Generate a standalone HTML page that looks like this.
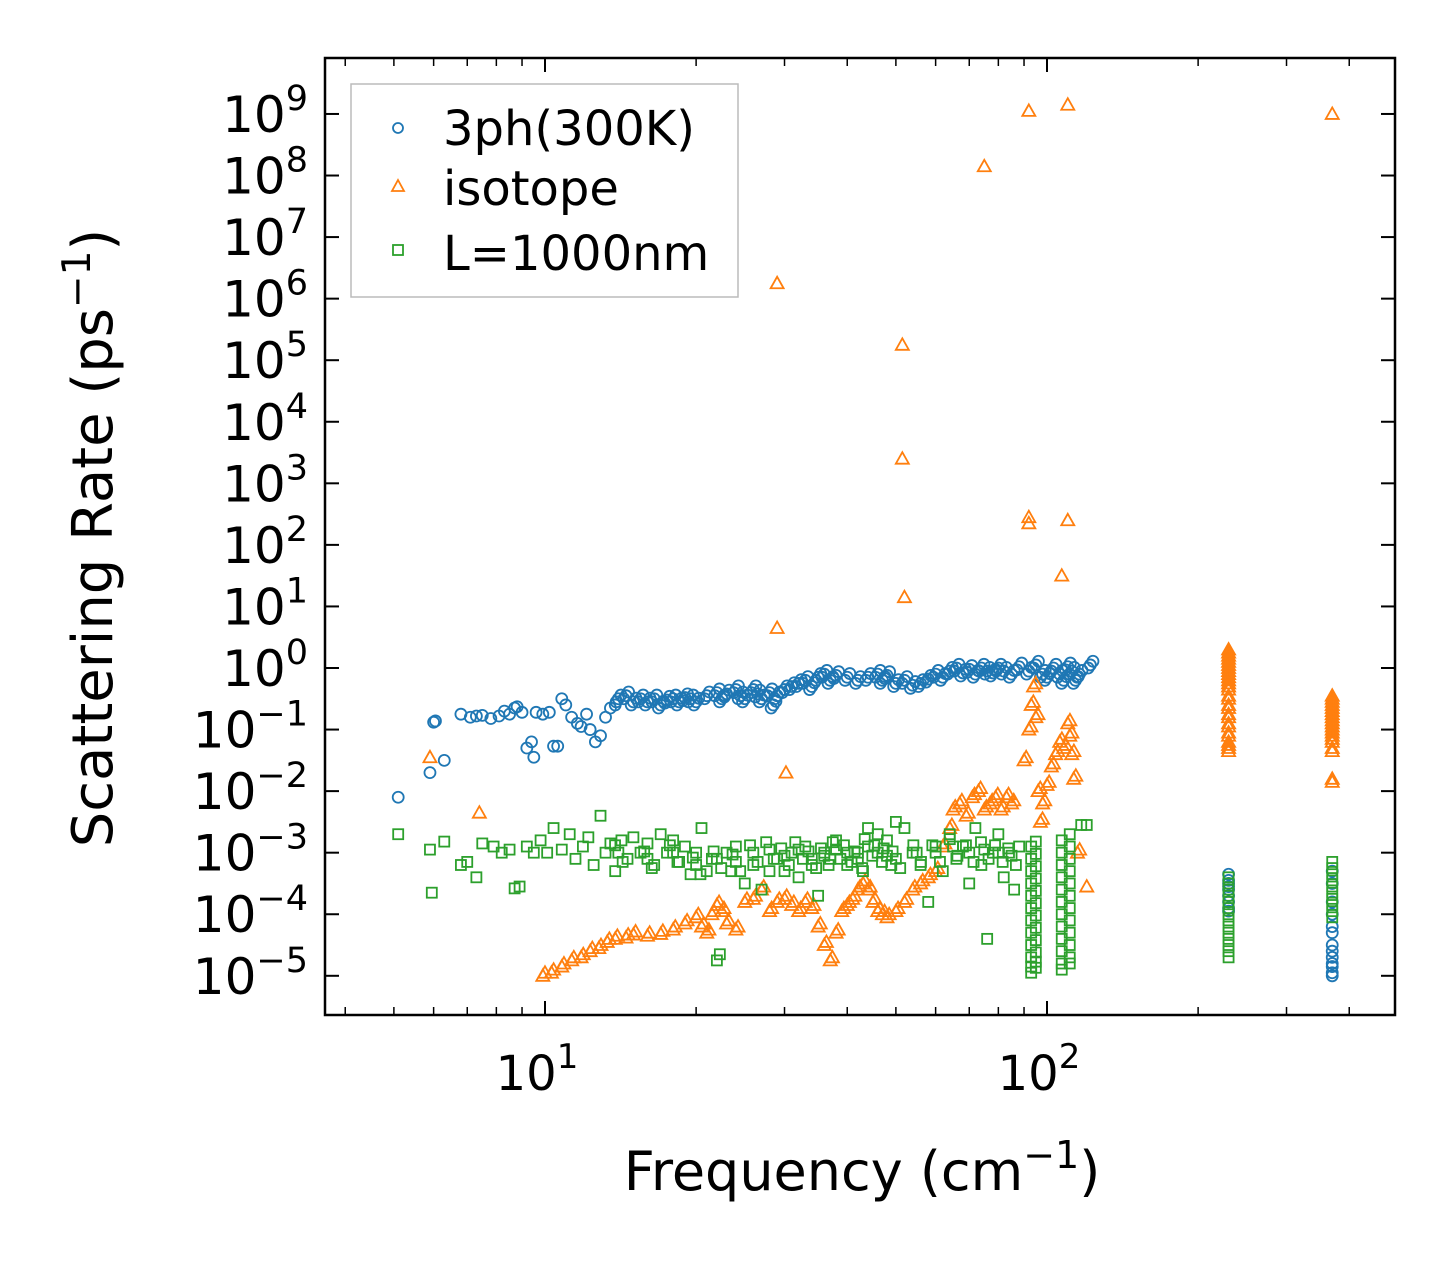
<!DOCTYPE html>
<html><head><meta charset="utf-8">
<style>
html,body{margin:0;padding:0;background:#fff;}
svg{display:block;font-family:"DejaVu Sans","Liberation Sans",sans-serif;}
</style></head>
<body>
<svg id="chart" width="1455" height="1265" viewBox="0 0 1455 1265" xmlns="http://www.w3.org/2000/svg">
<rect x="0" y="0" width="1455" height="1265" fill="#fff"/>
<g id="marks"></g>
<rect x="325" y="58" width="1070" height="957" fill="none" stroke="#000" stroke-width="2.5"/>
<g id="axes"></g>
<text x="862" y="1190" font-size="54" text-anchor="middle">Frequency (cm<tspan dy="-22" font-size="38">−1</tspan><tspan dy="22">)</tspan></text>
<text transform="translate(112,538) rotate(-90)" font-size="56" text-anchor="middle">Scattering Rate (ps<tspan dy="-22" font-size="39">−1</tspan><tspan dy="22">)</tspan></text>
<g>
<rect x="351" y="84" width="387" height="213" fill="#fff" stroke="#bbb" stroke-width="1.5"/>
<circle cx="398" cy="128" r="5" fill="none" stroke="#1f77b4" stroke-width="1.8"/>
<text x="443" y="145" font-size="48">3ph(300K)</text>
<path d="M398,180 L404,191 L392,191 Z" fill="none" stroke="#ff7f0e" stroke-width="1.8"/>
<text x="443" y="205" font-size="48">isotope</text>
<rect x="393" y="245" width="10" height="10" fill="none" stroke="#2ca02c" stroke-width="1.8"/>
<text x="443" y="270" font-size="48">L=1000nm</text>
</g>
</svg>
<script>
// ---- data: [frequency (cm^-1), log10(rate)] ----
const blueScatter = [[5.1,-2.1],[5.9,-1.7],[6.0,-0.88],[6.05,-0.86],[6.3,-1.5],[6.8,-0.75],[7.1,-0.8],[7.3,-0.78],[7.5,-0.77],[7.8,-0.82],[8.1,-0.78],[8.3,-0.7],[8.5,-0.75],[8.7,-0.65],[8.8,-0.63],[9.0,-0.72],[9.2,-1.3],[9.4,-1.2],[9.5,-1.45],[9.6,-0.72],[9.9,-0.75],[10.2,-0.72],[10.4,-1.27],[10.6,-1.27],[10.8,-0.5],[11.0,-0.6],[11.3,-0.8],[11.6,-0.9],[11.8,-0.95],[12.1,-0.75],[12.3,-1.0],[12.6,-1.2],[12.9,-1.1],[13.2,-0.8],[13.5,-0.65],[13.8,-0.6]];
const blueBand = [[14,-0.5],[14.5,-0.45],[15,-0.55],[15.5,-0.5],[16,-0.55],[16.5,-0.5],[17,-0.6],[17.5,-0.52],[18,-0.5],[18.5,-0.55],[19,-0.48],[19.5,-0.5],[20,-0.55],[21,-0.45],[22,-0.4],[22.5,-0.5],[23,-0.42],[24,-0.35],[24.5,-0.45],[25,-0.5],[26,-0.35],[26.5,-0.42],[27,-0.5],[28,-0.4],[28.5,-0.6],[29,-0.45],[30,-0.35],[31,-0.3],[32,-0.25],[33,-0.2],[34,-0.3],[35,-0.15],[36,-0.1],[37,-0.2],[38,-0.12],[40,-0.15],[42,-0.2],[44,-0.15],[46,-0.1],[47,-0.2],[48,-0.12],[50,-0.25],[52,-0.2],[54,-0.28],[56,-0.25],[58,-0.18],[60,-0.1],[62,-0.15],[64,-0.05],[66,0],[68,-0.08],[70,-0.02],[72,-0.1],[74,0.0],[76,-0.05],[78,-0.08],[80,0.0],[82,-0.05],[85,-0.1],[88,0.02],[92,-0.05],[95,0.05],[98,-0.1],[100,-0.15],[103,0.0],[106,-0.1],[108,-0.2],[110,0.02],[112,-0.05],[114,-0.2],[116,-0.1],[122,0.05]];
const blueCol230 = [-3.35,-3.45,-3.5,-3.55,-3.6,-3.7,-3.8,-3.9,-3.95];
const blueCol370 = [-3.3,-3.5,-3.8,-4.0,-4.2,-4.3,-4.5,-4.6,-4.7,-4.8,-4.85,-4.95,-5.0];
const orangeScatter = [[5.9,-1.45],[7.4,-2.35],[29,6.25],[29,0.65],[30.2,-1.7],[51.5,5.25],[51.5,3.4],[52,1.15],[75,8.15],[92,9.05],[92,2.45],[92,2.35],[107,1.5],[110,2.4],[110,9.15],[120,-3.55],[370,9.0]];
const orangeBand = [[9.9,-5.0],[10.3,-4.95],[10.8,-4.85],[11.3,-4.75],[11.8,-4.7],[12.3,-4.6],[12.8,-4.55],[13.3,-4.45],[13.8,-4.4],[14.5,-4.38],[15,-4.33],[16,-4.35],[17,-4.32],[18,-4.25],[19,-4.15],[20,-4.05],[20.5,-4.2],[21,-4.3],[21.5,-4.0],[22,-3.85],[22.5,-3.95],[23,-4.15],[24,-4.25],[25,-3.8],[26,-3.75],[27,-3.6],[28,-3.95],[29,-3.8],[30,-3.75],[31,-3.85],[32,-3.95],[33,-3.8],[34,-3.9],[35,-4.2],[36,-4.5],[37,-4.75],[38,-4.3],[39,-3.95],[40,-3.85],[41,-3.75],[42,-3.6],[43,-3.5],[44,-3.6],[45,-3.8],[46,-3.95],[47,-4.0],[48,-4.05],[50,-3.95],[52,-3.8],[54,-3.6],[56,-3.5],[58,-3.4],[60,-3.3],[62,-2.9],[64,-2.6],[65,-2.3],[67,-2.2],[69,-2.4],[71,-2.1],[73,-2.0],[75,-2.3],[77,-2.2],[79,-2.1],[81,-2.3],[83,-2.1],[85,-2.2],[90,-1.5],[92,-1.0],[93,-0.6],[94,-0.3],[95,-0.8],[96,-2.0],[97,-2.5],[98,-2.2],[100,-1.9],[102,-1.6],[104,-1.4],[106,-1.2],[108,-1.3],[110,-0.9],[111,-1.1],[112,-1.4],[113,-1.8],[115,-3.0]];
const orangeCol230 = [0.3,0.2,0.1,0.0,-0.1,-0.2,-0.3,-0.45,-0.6,-0.75,-0.9,-1.05,-1.2,-1.3];
const orangeCol370 = [-0.45,-0.55,-0.65,-0.75,-0.85,-0.95,-1.05,-1.15,-1.3,-1.8];
const greenScatter = [[5.1,-2.7],[5.9,-2.95],[5.95,-3.65],[6.3,-2.82],[6.8,-3.2],[7.0,-3.15],[7.3,-3.4],[7.5,-2.85],[7.9,-2.9],[8.2,-3.0],[8.5,-2.95],[8.7,-3.58],[8.9,-3.55],[9.2,-2.9],[9.5,-3.0],[9.8,-2.8],[10.1,-3.0],[10.4,-2.6],[10.8,-2.95],[11.2,-2.7],[11.5,-3.1],[11.9,-2.9],[12.2,-2.75],[12.5,-3.2],[12.9,-2.4],[13.2,-3.0],[13.5,-2.85],[13.8,-3.3],[14.2,-2.8],[14.6,-3.1],[15,-2.75],[15.5,-3.0],[16,-2.85],[16.5,-3.2],[17,-2.7],[17.5,-3.0],[18,-2.8],[18.5,-3.15],[19,-2.9],[19.5,-3.35],[20,-3.0],[20.5,-2.6],[21,-3.3],[21.5,-3.1],[22,-4.75],[22.3,-4.65],[23,-3.0],[23.5,-3.3],[24,-2.9],[25,-3.5],[26,-3.2],[27,-3.6],[28,-3.3],[29,-3.1],[30,-3.3],[31,-3.0],[32,-3.4],[33,-2.9],[34,-3.2],[35,-3.7],[36,-3.0],[37,-3.1],[38,-2.8],[40,-3.2],[42,-3.0],[43,-3.3],[44,-2.6],[46,-2.7],[48,-2.8],[50,-2.5],[52,-2.6],[54,-3.0],[56,-3.2],[58,-3.8],[60,-2.9],[62,-3.3],[64,-2.7],[66,-3.1],[68,-2.9],[70,-3.5],[72,-2.6],[74,-3.2],[76,-4.4],[78,-3.0],[80,-2.7],[82,-3.4],[84,-3.0],[86,-3.6],[88,-2.9],[117,-2.55],[120,-2.55]];
const greenBandDense = [[14,-3.0],[16,-3.1],[18,-3.0],[20,-3.2],[22,-3.1],[24,-3.15],[26,-3.0],[28,-2.95],[30,-3.05],[32,-2.95],[34,-3.1],[36,-3.05],[38,-2.95],[40,-3.0],[42,-3.1],[44,-2.9],[46,-3.0],[48,-3.05],[50,-3.1],[55,-3.0],[60,-3.0],[65,-2.9],[70,-3.0],[75,-2.95],[80,-3.0],[85,-3.05]];
const greenCol93 = [-2.9,-3.1,-3.3,-3.5,-3.7,-3.9,-4.1,-4.3,-4.5,-4.7,-4.85,-4.95];
const greenCol110 = [-2.8,-3.0,-3.2,-3.4,-3.6,-3.8,-4.0,-4.2,-4.4,-4.6,-4.8,-4.9];
const greenCol230 = [-3.4,-3.5,-3.6,-3.7,-3.8,-3.9,-4.0,-4.1,-4.2,-4.3,-4.4,-4.5,-4.6,-4.7];
const greenCol370 = [-3.15,-3.25,-3.35,-3.45,-3.55,-3.65,-3.75,-3.85,-3.95,-4.05];
const xTickExps = [1,2];
const yTickExps = [-5,-4,-3,-2,-1,0,1,2,3,4,5,6,7,8,9];

// ---- axes ----
const X0=545, XDEC=502, Y0=668, YDEC=61.56;
const xs = f => X0 + (Math.log10(f)-1)*XDEC;
const ys = e => Y0 - e*YDEC;
const NS="http://www.w3.org/2000/svg";
const marks=document.getElementById('marks');
const axes=document.getElementById('axes');
function mk(tag, attrs, parent){const e=document.createElementNS(NS,tag);for(const k in attrs)e.setAttribute(k,attrs[k]);parent.appendChild(e);return e;}

function circle(f,e){const el=mk('circle',{cx:xs(f),cy:ys(e),r:5.5,fill:'none',stroke:'#1f77b4','stroke-width':1.8},marks);

}
function tri(f,e){const x=xs(f),y=ys(e);const el=mk('path',{d:`M${x},${y-6.5} L${x+6.5},${y+5} L${x-6.5},${y+5} Z`,fill:'none',stroke:'#ff7f0e','stroke-width':1.8},marks);

}
function sq(f,e){const x=xs(f),y=ys(e);const el=mk('rect',{x:x-5,y:y-5,width:10,height:10,fill:'none',stroke:'#2ca02c','stroke-width':1.8},marks);

}

blueScatter.forEach(p=>circle(p[0],p[1]));
blueBand.forEach(p=>{circle(p[0],p[1]);circle(p[0]*1.012,p[1]+0.06);circle(p[0]*0.99,p[1]-0.05);});
blueCol230.forEach(e=>circle(230,e));
blueCol370.forEach(e=>circle(370,e));
orangeScatter.forEach(p=>tri(p[0],p[1]));
orangeBand.forEach(p=>{tri(p[0],p[1]);tri(p[0]*1.01,p[1]+0.05);});
orangeCol230.forEach(e=>{tri(230,e);tri(230,e-0.05);});
orangeCol370.forEach(e=>{tri(370,e);tri(370,e-0.05);});
greenScatter.forEach(p=>sq(p[0],p[1]));
greenBandDense.forEach(p=>{sq(p[0],p[1]);sq(p[0]*1.02,p[1]-0.15);sq(p[0]*0.985,p[1]+0.12);});
greenCol93.forEach(e=>{sq(93,e);sq(95,e+0.08);});
greenCol110.forEach(e=>{sq(107,e);sq(111,e+0.1);});
greenCol230.forEach(e=>sq(230,e));
greenCol370.forEach(e=>sq(370,e));

const L=325,R=1395,T=58,B=1015;
xTickExps.forEach(k=>{
  const x=xs(Math.pow(10,k));
  mk('line',{x1:x,y1:B,x2:x,y2:B-14,stroke:'#000','stroke-width':2},axes);
  mk('line',{x1:x,y1:T,x2:x,y2:T+14,stroke:'#000','stroke-width':2},axes);
  const t=mk('text',{x:x-8,y:1090,'font-size':48,'text-anchor':'middle'},axes);
  
  
  t.innerHTML=`10<tspan dy="-22" font-size="34">${k}</tspan>`;
});
[4,5,6,7,8,9,20,30,40,50,60,70,80,90,200,300,400].forEach(m=>{
  const x=xs(m); if(x<L||x>R) return;
  mk('line',{x1:x,y1:B,x2:x,y2:B-8,stroke:'#000','stroke-width':1.5},axes);
  mk('line',{x1:x,y1:T,x2:x,y2:T+8,stroke:'#000','stroke-width':1.5},axes);
});
yTickExps.forEach(k=>{
  const y=ys(k);
  mk('line',{x1:L,y1:y,x2:L+14,y2:y,stroke:'#000','stroke-width':2},axes);
  mk('line',{x1:R,y1:y,x2:R-14,y2:y,stroke:'#000','stroke-width':2},axes);
  const lbl = k<0 ? '−'+(-k) : ''+k;
  const t=mk('text',{x:308,y:y+18,'font-size':50,'text-anchor':'end'},axes);
  
  
  t.innerHTML=`10<tspan dy="-22" font-size="35">${lbl}</tspan>`;
});
</script>
</body></html>
